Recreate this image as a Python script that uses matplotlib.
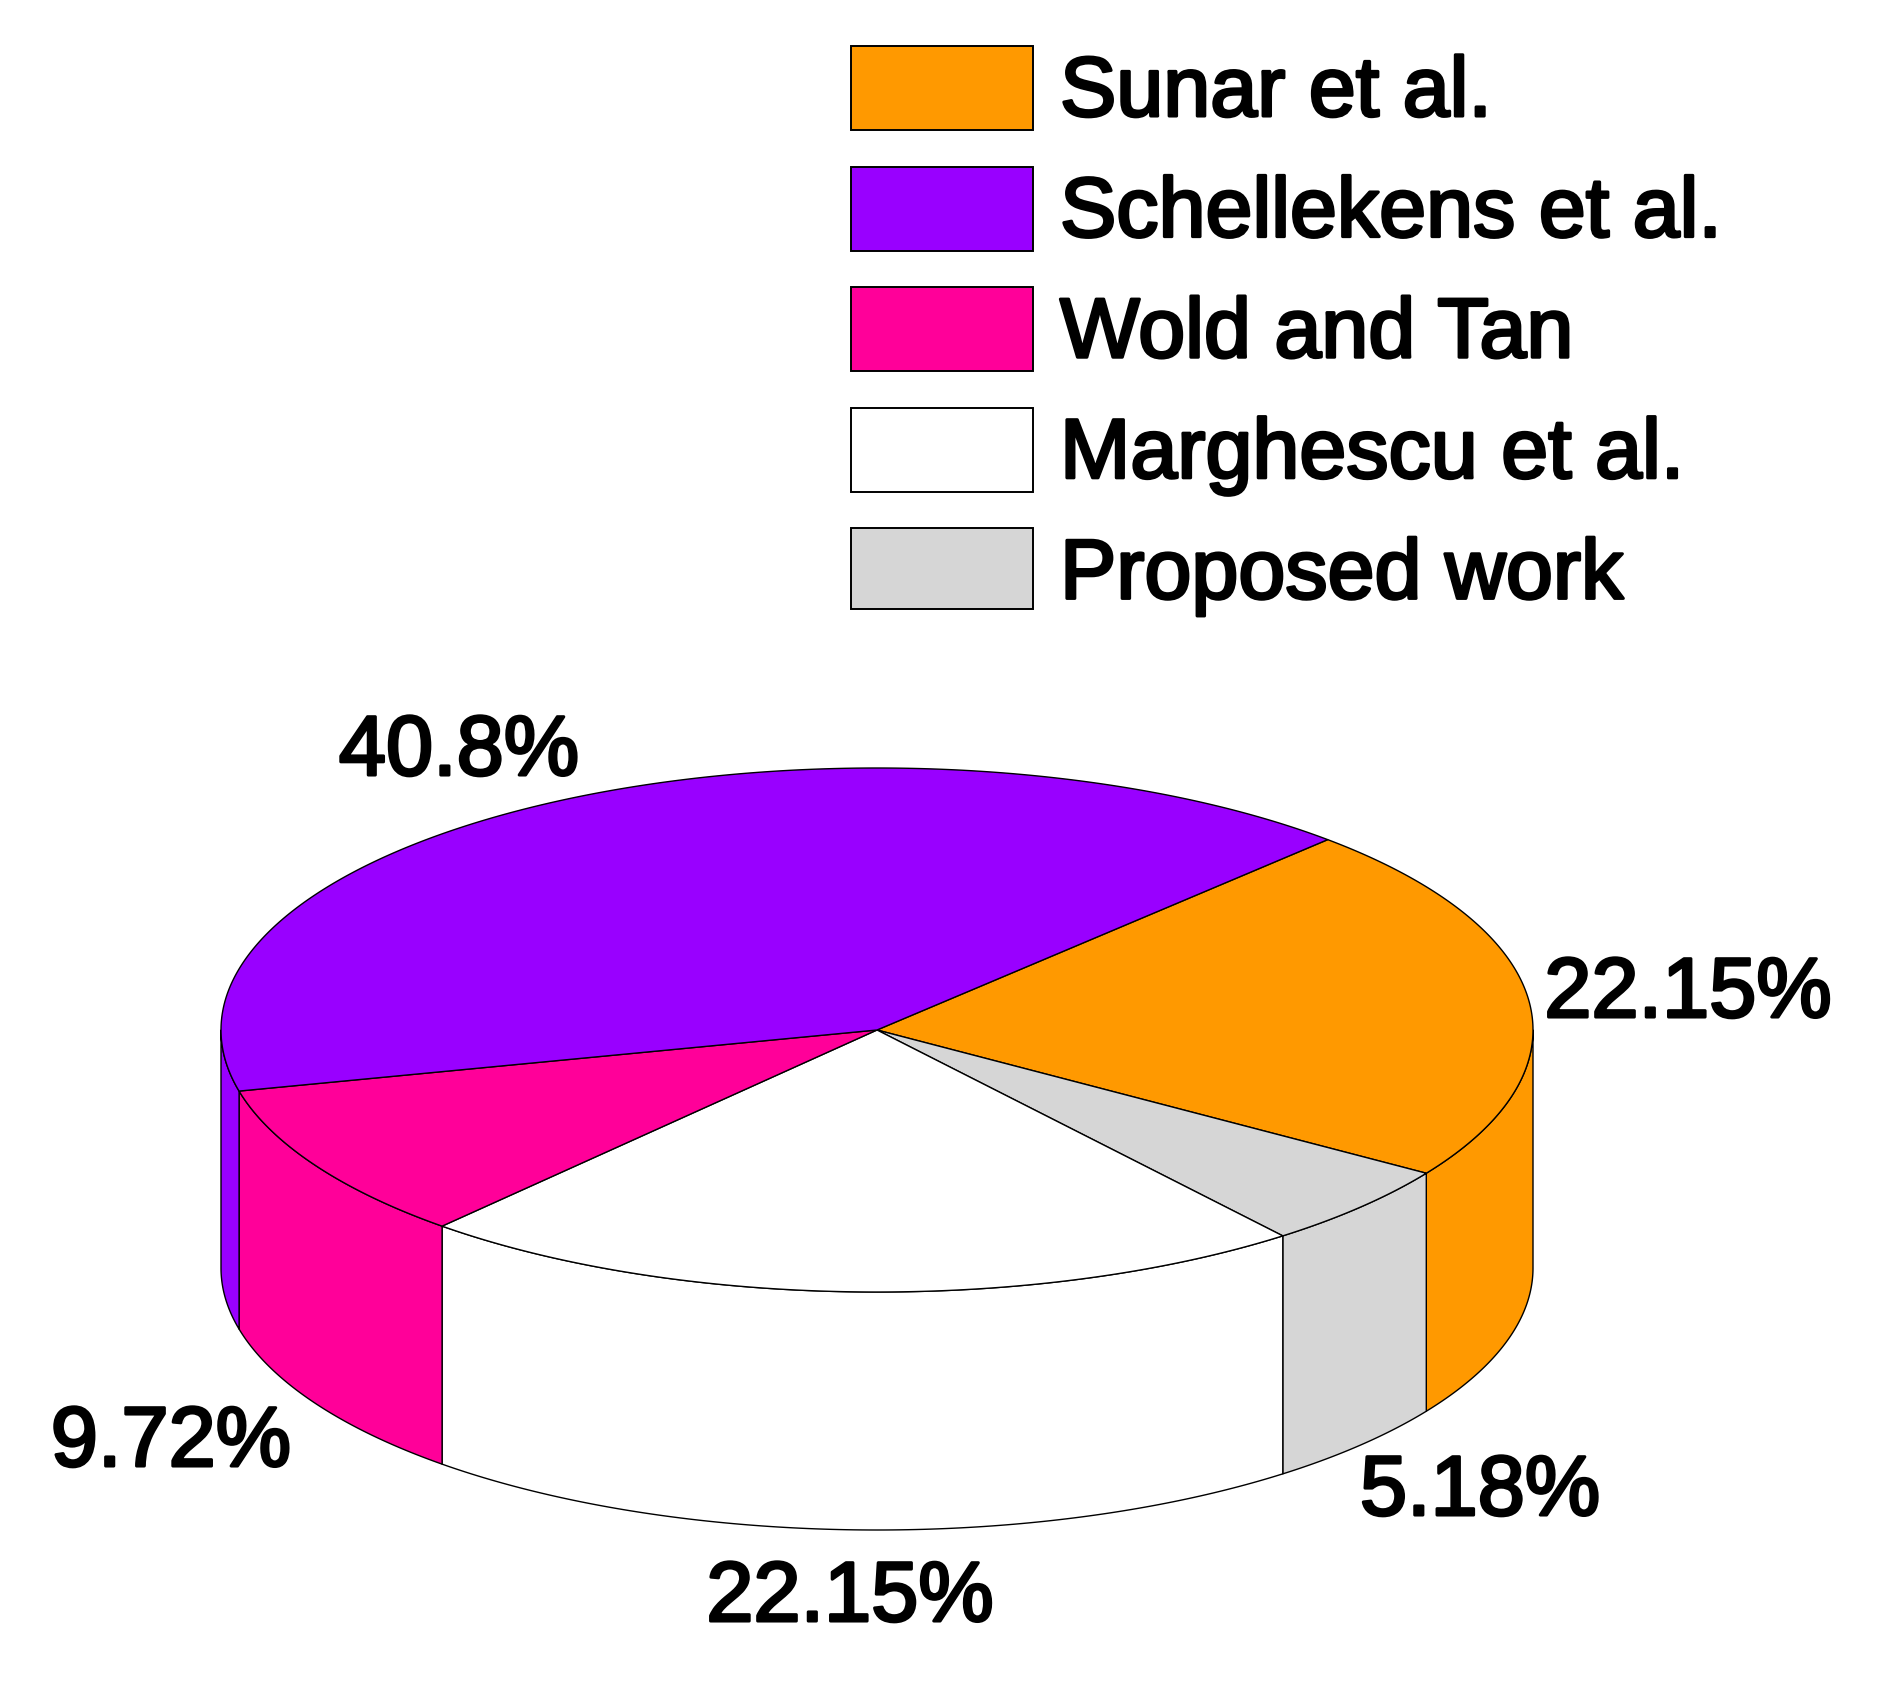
import numpy as np
import matplotlib
matplotlib.use("Agg")
import matplotlib.pyplot as plt
import matplotlib.patheffects as pe
from matplotlib.patches import Rectangle

labels = ["Sunar et al.", "Schellekens et al.", "Wold and Tan", "Marghescu et al.", "Proposed work"]
pie_order = ["Sunar et al.", "Proposed work", "Marghescu et al.", "Wold and Tan", "Schellekens et al."]
values = {"Sunar et al.": 22.15, "Proposed work": 5.18, "Marghescu et al.": 22.15, "Wold and Tan": 9.72, "Schellekens et al.": 40.8}
value_text = {"Sunar et al.": "22.15%", "Proposed work": "5.18%", "Marghescu et al.": "22.15%", "Wold and Tan": "9.72%", "Schellekens et al.": "40.8%"}
colors = {"Sunar et al.": "#FF9900", "Schellekens et al.": "#9900FF", "Wold and Tan": "#FF0099", "Marghescu et al.": "#FFFFFF", "Proposed work": "#D6D6D6"}
label_pos = {"Sunar et al.": (1688, 995), "Proposed work": (1480, 1493), "Marghescu et al.": (850, 1599), "Wold and Tan": (171, 1444), "Schellekens et al.": (459, 753)}

W, H = 1878, 1682
cx, cy, rx, ry, depth = 877, 1030, 656, 262, 238
start = 46.6
EDGE = "#000000"
LW = 1.0
STROKE = [pe.withStroke(linewidth=2.2, foreground="black")]

fig = plt.figure(figsize=(W / 100, H / 100), dpi=100, facecolor="white")
ax = fig.add_axes([0, 0, 1, 1])
ax.set_xlim(0, W); ax.set_ylim(H, 0); ax.axis("off")

def ell(t):
    r = np.radians(t)
    return cx + rx * np.cos(r), cy - ry * np.sin(r)

# slices clockwise from start
a = start
spans = []
for name in pie_order:
    b = a - values[name] / 100 * 360
    spans.append((name, a, b))
    a = b

# side walls (visible lower half only)
for name, a0, b0 in spans:
    for shift in (0, 360):
        hi = min(a0 + shift, 0); lo = max(b0 + shift, -180)
        if hi > lo:
            t = np.linspace(hi, lo, 120)
            x, y = ell(t)
            px = np.r_[x, x[::-1]]; py = np.r_[y, y[::-1] + depth]
            ax.fill(px, py, facecolor=colors[name], edgecolor=EDGE, lw=LW, zorder=2, joinstyle="round")

# top faces
for name, a0, b0 in spans:
    t = np.linspace(a0, b0, 300)
    x, y = ell(t)
    ax.fill(np.r_[cx, x], np.r_[cy, y], facecolor=colors[name], edgecolor=EDGE, lw=LW, zorder=3, joinstyle="round")

FONT = "Liberation Sans"
for name in pie_order:
    x, y = label_pos[name]
    ax.text(x, y, value_text[name], fontsize=61, family=FONT, ha="center", va="center",
            color="black", zorder=5, path_effects=STROKE)

# legend
for i, name in enumerate(labels):
    y0 = 46 + i * 120.6
    h = 84 if i < 4 else 81
    ax.add_patch(Rectangle((851, y0), 182, h, facecolor=colors[name], edgecolor=EDGE, lw=1.4, zorder=4))
    ax.text(1060, y0 + 48, name, fontsize=60.8, family=FONT, ha="left", va="center", color="black", zorder=5,
            path_effects=STROKE)

fig.savefig("out.png", dpi=100, facecolor="white")
